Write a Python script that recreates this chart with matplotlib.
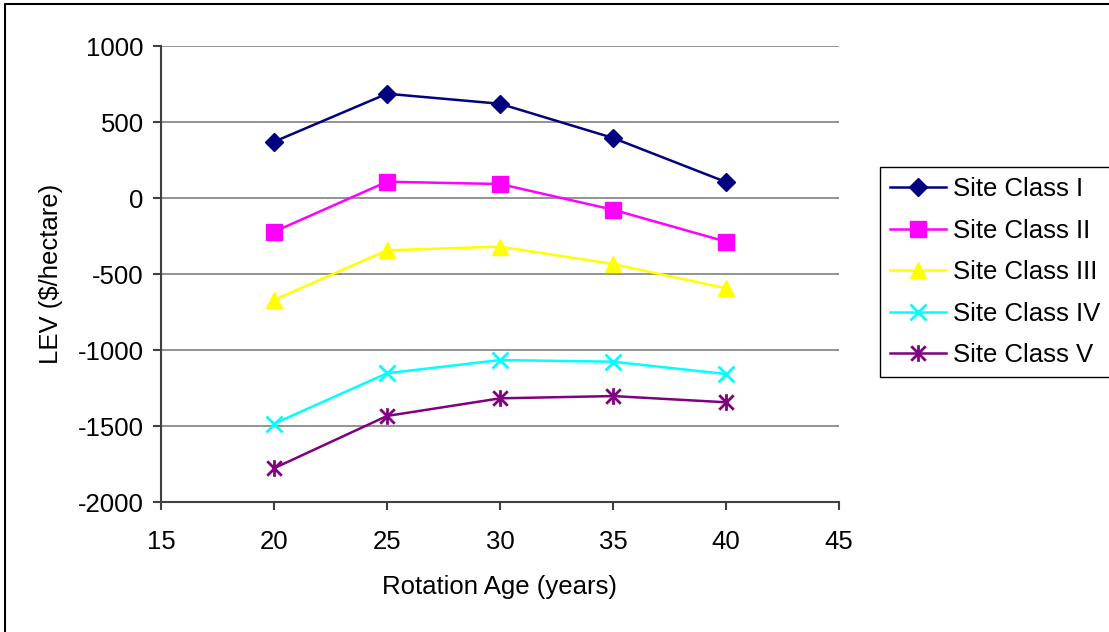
import matplotlib
matplotlib.use("Agg")
import matplotlib.pyplot as plt
from matplotlib.path import Path
from matplotlib.lines import Line2D

ages = [20, 25, 30, 35, 40]
site_1 = [370, 686, 620, 395, 105]
site_2 = [-222, 107, 92, -77, -287]
site_3 = [-671, -344, -320, -434, -594]
site_4 = [-1485, -1153, -1066, -1077, -1158]
site_5 = [-1778, -1434, -1318, -1303, -1344]
labels = ["Site Class I", "Site Class II", "Site Class III", "Site Class IV", "Site Class V"]
x_ticks = [15, 20, 25, 30, 35, 40, 45]
y_ticks = [-2000, -1500, -1000, -500, 0, 500, 1000]

plt.rcParams['font.family'] = ['Liberation Sans', 'DejaVu Sans']
plt.rcParams['axes.unicode_minus'] = False

asterisk = Path([(0, -1), (0, 1), (-0.87, -0.87), (0.87, 0.87), (-0.87, 0.87), (0.87, -0.87)],
                [Path.MOVETO, Path.LINETO, Path.MOVETO, Path.LINETO, Path.MOVETO, Path.LINETO])

FS = 18.5

fig = plt.figure(figsize=(11.09, 6.32), dpi=100)
# outer chart border (only left and top edges visible in the reference)
fig.lines.append(Line2D([5/1109, 5/1109, 1], [0, 1 - 4/632, 1 - 4/632], transform=fig.transFigure,
                        color='black', linewidth=1.5))
ax = fig.add_axes([161/1109, 130/632, 678/1109, 456/632])

styles = [
    dict(color='#000080', marker='D', markersize=9),
    dict(color='#FF00FF', marker='s', markersize=11),
    dict(color='#FFFF00', marker='^', markersize=11),
    dict(color='#00FFFF', marker='x', markersize=11, markeredgewidth=2),
    dict(color='#800080', marker=asterisk, markersize=12, markeredgewidth=2),
]
for vals, lab, st in zip([site_1, site_2, site_3, site_4, site_5], labels, styles):
    ax.plot(ages, vals, label=lab, linewidth=1.8, **st)

ax.set_xlim(15, 45)
ax.set_ylim(-2000, 1000)
ax.set_xticks(x_ticks)
ax.set_yticks(y_ticks)
ax.yaxis.grid(True, color='#808080', linewidth=1.2)
ax.set_axisbelow(True)
for s in ['top', 'right']:
    ax.spines[s].set_visible(False)
for s in ['left', 'bottom']:
    ax.spines[s].set_color('#404040')
    ax.spines[s].set_linewidth(1.5)
ax.tick_params(axis='y', labelsize=FS, length=6, width=1.5, color='#404040', pad=6.5)
ax.tick_params(axis='x', labelsize=FS, length=6, width=1.5, color='#404040', pad=14)
ax.set_xlabel("Rotation Age (years)", fontsize=FS, labelpad=15.4)
ax.set_ylabel("LEV ($/hectare)", fontsize=FS, labelpad=10.6)

fig.legend(loc='upper left', bbox_to_anchor=(880/1109, 1 - 167/632), fontsize=FS,
           frameon=True, fancybox=False, edgecolor='black', framealpha=1,
           handlelength=2.15, labelspacing=0.68, borderpad=0.4, handletextpad=0.3,
           borderaxespad=0)

fig.savefig("out.png", dpi=100)
